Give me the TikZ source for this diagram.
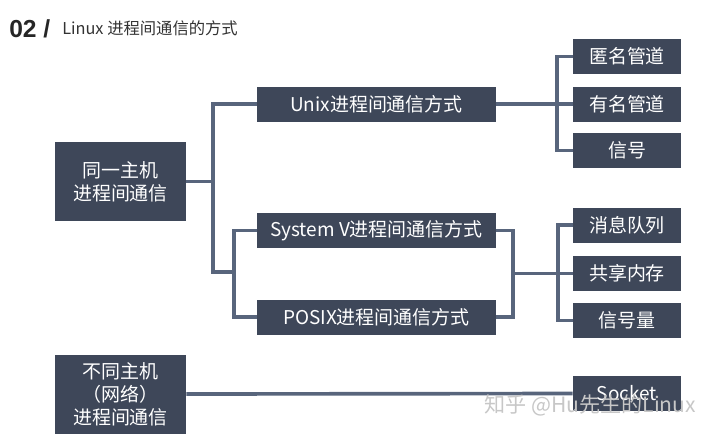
\documentclass[tikz,border=0pt]{standalone}
\usepackage{fontspec}
\setmainfont{Liberation Sans}
\newfontfamily\cjk{Noto Sans CJK SC}
\definecolor{boxfill}{HTML}{3E4759}
\definecolor{linkcol}{HTML}{58657C}
\tikzset{
	box/.style={fill=boxfill, text=white, inner sep=0pt, align=center,
		font=\cjk\fontsize{13.5}{16.4}\selectfont},
	host/.style={box, minimum width=3.275cm, minimum height=1.975cm},
	wide/.style={box, minimum width=5.975cm, minimum height=0.875cm},
	leaf/.style={box, minimum width=2.7cm, minimum height=0.875cm},
	link/.style={draw=linkcol, line width=2.6pt},
}

\begin{document}
\begin{tikzpicture}[x=0.025cm, y=-0.025cm]
			%%%%% START %%%%%
			
			\useasboundingbox (0, 0) rectangle (720, 436);
			
			% title
			\node[anchor=base west, inner sep=0pt, text=black!85, font=\bfseries\fontsize{17.5}{20}\selectfont] (num) at (9, 37) {02 /};
			\node[anchor=base west, inner sep=0pt, text=black!80, font=\cjk\fontsize{11.6}{13}\selectfont] (title) at (62, 34) {Linux 进程间通信的方式};
			
			% hosts
			\node[host] (same) at (120.5, 181.5) {同一主机\\进程间通信};
			\node[host] (net) at (120.5, 394) {不同主机\\（网络）\\进程间通信};
			
			% ways
			\node[wide] (unix) at (376.5, 104) {Unix进程间通信方式};
			\node[wide] (sysv) at (376.5, 230.5) {System V进程间通信方式};
			\node[wide] (posix) at (376.5, 317) {POSIX进程间通信方式};
			
			% leaves
			\node[leaf] (pipe) at (627, 56.5) {匿名管道};
			\node[leaf] (fifo) at (627, 104) {有名管道};
			\node[leaf] (sig) at (627, 150.5) {信号};
			\node[leaf] (msgq) at (627, 225) {消息队列};
			\node[leaf] (shm) at (627, 273.5) {共享内存};
			\node[leaf] (sem) at (627, 320.5) {信号量};
			\node[leaf] (sock) at (627, 393.5) {Socket};
			
			% junctions
			\coordinate (j1) at (213, 181.5);
			\coordinate (j2) at (234, 272);
			\coordinate (j3) at (557, 104);
			\coordinate (j4) at (513, 273.5);
			\coordinate (j5) at (558, 273.5);
			
			\draw[link] (same.east) -- (j1);
			\draw[link] (j1) |- (unix.west);
			\draw[link] (j1) |- (j2);
			\draw[link] (j2) |- (sysv.west);
			\draw[link] (j2) |- (posix.west);
			
			\draw[link] (unix.east) -- (j3);
			\draw[link] (j3) |- (pipe.west);
			\draw[link] (j3) -- (fifo.west);
			\draw[link] (j3) |- (sig.west);
			
			\draw[link] (sysv.east) -| (j4);
			\draw[link] (posix.east) -| (j4);
			\draw[link] (j4) -- (j5);
			\draw[link] (j5) |- (msgq.west);
			\draw[link] (j5) -- (shm.west);
			\draw[link] (j5) |- (sem.west);
			
			\draw[link] (net.east) -- (sock.west);
			
			% watermark
			\node[anchor=west, inner sep=0pt, text=black!22, font=\cjk\fontsize{15}{18}\selectfont] (mark) at (484, 405) {知乎 @Hu先生的Linux};
			
			%%%%% END %%%%%
		\end{tikzpicture}
\end{document}
